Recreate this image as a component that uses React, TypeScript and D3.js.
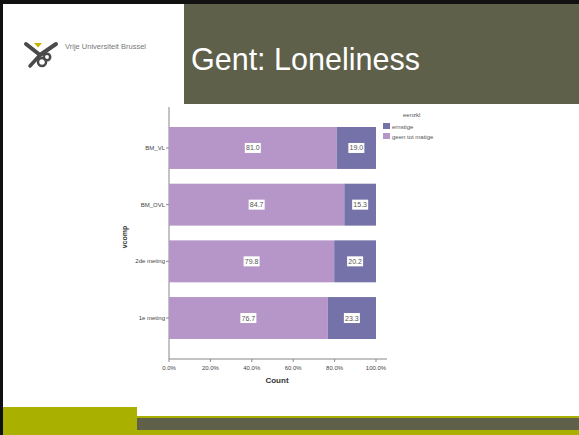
import React from "react";
import * as d3 from "d3";

const categories = ["BM_VL", "BM_OVL", "2de meting", "1e meting"];
const geenTotMatige = [81.0, 84.7, 79.8, 76.7];
const ernstige = [19.0, 15.3, 20.2, 23.3];
const xTicks = [0, 20, 40, 60, 80, 100];
const legendItems = ["ernstige", "geen tot matige"];

const LIGHT = "#b696c8";
const DARK = "#7472a8";
const OLIVE = "#5e604a";
const GREEN = "#aab000";

export default function App() {
  const x = d3.scaleLinear().domain([0, 100]).range([169, 376]);
  const y = d3.scaleBand<string>().domain(categories).range([127, 339]).paddingInner(0.26).paddingOuter(0);
  const bw = y.bandwidth();
  const fmt = d3.format(".1f");
  const legendColors = [DARK, LIGHT];

  return (
    <svg width={579} height={435} style={{ position: "absolute", left: 0, top: 0, fontFamily: "Liberation Sans, Arial, sans-serif" }}>
      <rect x={0} y={0} width={579} height={435} fill="#ffffff" />
      {/* frame */}
      <rect x={0} y={0} width={579} height={4} fill="#111" />
      <rect x={0} y={0} width={3} height={435} fill="#111" />
      {/* title box */}
      <rect x={184} y={4} width={395} height={100} fill={OLIVE} />
      <text x={191} y={70} fill="#fff" fontSize={30.5}>Gent: Loneliness</text>
      {/* logo */}
      <g fill="none" stroke="#4a4a4a" strokeLinecap="round" strokeLinejoin="round">
        <path d="M26,44 L40,55 L56,44" strokeWidth={4} />
        <path d="M34,43 L42,43 L38,47.5 Z" fill="#c8b400" stroke="none" />
        <path d="M40,55 L30,66" strokeWidth={3.5} />
        <circle cx={42} cy={62} r={4} strokeWidth={2.5} />
        <circle cx={47} cy={57} r={3.2} strokeWidth={2.5} />
      </g>
      <text x={65} y={49} fontSize={7.5} fill="#777">Vrije Universiteit Brussel</text>
      {/* axes */}
      <line x1={169} x2={169} y1={107} y2={359} stroke="#888" strokeWidth={1} />
      <line x1={169} x2={387} y1={359} y2={359} stroke="#888" strokeWidth={1} />
      {xTicks.map((t) => (
        <g key={t}>
          <line x1={x(t)} x2={x(t)} y1={359} y2={362} stroke="#888" />
          <text x={x(t)} y={370} fontSize={6} textAnchor="middle" fill="#444">{fmt(t)}%</text>
        </g>
      ))}
      <text x={277} y={383} fontSize={8} fontWeight="bold" textAnchor="middle" fill="#333">Count</text>
      {categories.map((c) => (
        <g key={c}>
          <line x1={166} x2={169} y1={(y(c) as number) + bw / 2} y2={(y(c) as number) + bw / 2} stroke="#888" />
          <text x={165} y={(y(c) as number) + bw / 2 + 2} fontSize={6} textAnchor="end" fill="#444">{c}</text>
        </g>
      ))}
      <text transform="translate(127,237) rotate(-90)" fontSize={7} fontWeight="bold" textAnchor="middle" fill="#333">vcomp</text>
      {/* bars */}
      {categories.map((c, i) => {
        const y0 = y(c) as number;
        const xl0 = x(0), xl1 = x(geenTotMatige[i]), xd1 = x(geenTotMatige[i] + ernstige[i]);
        const cy = y0 + bw / 2;
        const lc = (xl0 + xl1) / 2, dc = (xl1 + xd1) / 2;
        return (
          <g key={c}>
            <rect x={xl0} y={y0} width={xl1 - xl0} height={bw} fill={LIGHT} />
            <rect x={xl1} y={y0} width={xd1 - xl1} height={bw} fill={DARK} />
            <rect x={lc - 8} y={cy - 5} width={16} height={10} fill="#fff" />
            <text x={lc} y={cy + 2.5} fontSize={7} textAnchor="middle" fill="#555">{fmt(geenTotMatige[i])}</text>
            <rect x={dc - 8} y={cy - 5} width={16} height={10} fill="#fff" />
            <text x={dc} y={cy + 2.5} fontSize={7} textAnchor="middle" fill="#555">{fmt(ernstige[i])}</text>
          </g>
        );
      })}
      {/* legend */}
      <text x={403} y={117} fontSize={6} fill="#555">eenzkl</text>
      {legendItems.map((l, i) => (
        <g key={l}>
          <rect x={383} y={123 + i * 10} width={7} height={6} fill={legendColors[i]} />
          <text x={392} y={128.5 + i * 10} fontSize={6} fill="#555">{l}</text>
        </g>
      ))}
      {/* bottom bars */}
      <rect x={3} y={407} width={134} height={28} fill={GREEN} />
      <rect x={137} y={416} width={442} height={19} fill={GREEN} />
      <rect x={137} y={418} width={442} height={12} fill={OLIVE} />
    </svg>
  );
}
